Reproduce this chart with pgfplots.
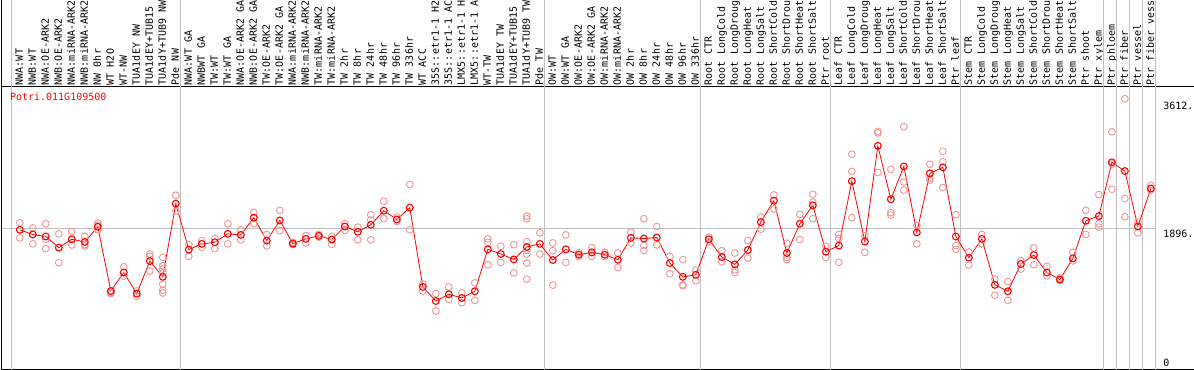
\documentclass[border=0pt]{standalone}
\usepackage{fontspec}
\setmonofont{DejaVu Sans Mono}
\usepackage{pgfplots}
\usepackage{pgfplotstable}
\pgfplotsset{compat=1.18}
\newcommand\labfont{\ttfamily\fontsize{10bp}{12bp}\selectfont}
\definecolor{sepgray}{RGB}{192,192,192}
\definecolor{reppink}{RGB}{236,150,150}
\definecolor{meanred}{RGB}{255,0,0}

\pgfplotstableread{
x y
1 1878
2 1815
3 1788
4 1639
5 1751
6 1715
7 1919
8 1056
9 1304
10 1020
11 1458
12 1246
13 2230
14 1612
15 1689
16 1711
17 1824
18 1810
19 2041
20 1733
21 2004
22 1693
23 1756
24 1797
25 1747
26 1923
27 1851
28 1946
29 2135
30 2018
31 2176
32 1110
33 921
34 1011
35 962
36 1052
37 1616
38 1553
39 1480
40 1648
41 1689
42 1472
43 1616
44 1544
45 1575
46 1544
47 1476
48 1770
49 1761
50 1774
51 1431
52 1246
53 1273
54 1751
55 1512
56 1413
57 1607
58 1982
59 2271
60 1566
61 1960
62 2208
63 1584
64 1666
65 2533
66 1720
67 3007
68 2289
69 2731
70 1842
71 2637
72 2718
73 1788
74 1503
75 1756
76 1138
77 1052
78 1418
79 1539
80 1304
81 1210
82 1494
83 2000
84 2063
85 2786
86 2668
87 1923
88 2433
}\means

\pgfplotstableread{
x y
1 1973
1 1770
2 1905
2 1689
3 1960
3 1751
3 1625
4 1824
4 1436
5 1855
5 1675
6 1788
6 1679
6 1660
7 1968
7 1940
7 1880
8 1040
8 1030
8 1020
9 1381
9 1255
10 1056
10 985
11 1553
11 1521
11 1323
12 1507
12 1395
12 1350
12 1300
12 1147
12 1066
12 1029
13 2343
13 2130
14 1679
14 1521
15 1733
15 1643
16 1760
16 1625
17 1960
17 1689
18 1878
18 1743
19 2113
19 1960
20 1815
20 1662
21 2140
21 1869
22 1710
22 1680
23 1800
23 1700
24 1815
24 1780
25 1790
25 1684
26 1960
26 1870
27 1914
27 1743
28 2081
28 2010
28 1743
29 2262
29 2027
30 2050
30 1990
31 2488
31 1878
32 1150
32 1056
33 1020
33 786
34 1110
34 944
35 1030
35 898
36 1165
36 930
37 1756
37 1710
37 1408
38 1657
38 1440
39 1679
39 1300
40 2063
40 2027
40 1720
40 1600
40 1553
40 1431
40 1215
41 1838
41 1553
42 1702
42 1598
42 1134
43 1810
43 1440
44 1570
44 1520
45 1640
45 1520
46 1575
46 1520
47 1566
47 1372
48 1846
48 1702
49 2027
49 1666
49 1598
50 1923
50 1675
51 1521
51 1287
52 1476
52 1138
52 1125
53 1337
53 1192
54 1780
54 1720
55 1598
55 1449
56 1566
56 1341
56 1304
57 1733
57 1499
58 2049
58 1887
59 2347
59 2158
60 1697
60 1507
60 1476
61 2086
61 1747
62 2356
62 2250
62 2027
63 1657
63 1507
64 1815
64 1760
64 1440
65 2894
65 2664
65 2041
66 1797
66 1575
67 3200
67 3180
67 2650
68 2691
68 2109
68 2077
69 3264
69 2519
69 2411
70 1937
70 1689
71 2759
71 2569
71 2545
72 2935
72 2794
72 2447
73 2081
73 1666
73 1616
74 1580
74 1404
75 1815
75 1689
76 1215
76 998
77 1182
77 930
78 1463
78 1350
79 1634
79 1408
80 1386
80 1260
81 1230
81 1195
82 1575
82 1460
83 2140
83 1815
84 2352
84 1960
84 1914
85 3196
85 2763
85 2424
86 3640
86 2298
86 2054
87 1838
87 1980
88 2478
88 2410
}\reps

\begin{document}
\begin{tikzpicture}
\begin{axis}[
  at={(1.5bp,0.5bp)}, anchor=south west,
  scale only axis, width=1192.5bp, height=283bp,
  xmin=-0.4077, xmax=91.323,
  ymin=0, ymax=3805,
  clip=false,
  axis line style={draw=none},
  major tick length=0pt,
  tick style={draw=none},
  /pgf/number format/assume math mode=true,
  xtick={1,...,88},
  xticklabel pos=upper,
  xticklabels={NWA:WT,NWB:WT,NWA:OE-ARK2,NWB:OE-ARK2,NWA:miRNA-ARK2,NWB:miRNA-ARK2,NW 0hr,WT H2O,WT-NW,TUA1dEY NW,TUA1dEY+TUB15,TUA1dY+TUB9 NW,Pde NW,
    NWA:WT GA,NWBWT GA,TW:WT,TW:WT GA,NWA:OE-ARK2 GA,NWB:OE-ARK2 GA,TW:OE-ARK2,TW:OE-ARK2 GA,NWA:miRNA-ARK2,NWB:miRNA-ARK2,TW:miRNA-ARK2,TW:miRNA-ARK2,TW 2hr,TW 8hr,TW 24hr,TW 48hr,TW 96hr,TW 336hr,WT ACC,35S::etr1-1 H2,35S::etr1-1 AC,LMX5::etr1-1 H,LMX5::etr1-1 A,WT-TW,TUA1dEY TW,TUA1dEY+TUB15,TUA1dY+TUB9 TW,Pde TW,
    OW:WT,OW:WT GA,OW:OE-ARK2,OW:OE-ARK2 GA,OW:miRNA-ARK2,OW:miRNA-ARK2,OW 2hr,OW 8hr,OW 24hr,OW 48hr,OW 96hr,OW 336hr,
    Root CTR,Root LongCold,Root LongDroug,Root LongHeat,Root LongSalt,Root ShortCold,Root ShortDrou,Root ShortHeat,Root ShortSalt,Ptr root,
    Leaf CTR,Leaf LongCold,Leaf LongDroug,Leaf LongHeat,Leaf LongSalt,Leaf ShortCold,Leaf ShortDrou,Leaf ShortHeat,Leaf ShortSalt,Ptr leaf,
    Stem CTR,Stem LongCold,Stem LongDroug,Stem LongHeat,Stem LongSalt,Stem ShortCold,Stem ShortDrou,Stem ShortHeat,Stem ShortSalt,Ptr shoot,Ptr xylem,
    Ptr phloem,Ptr fiber,Ptr vessel,Ptr fiber vess},
  xticklabel style={font=\labfont, rotate=90, anchor=west, inner xsep=1.2bp, inner ysep=0pt, text height=7bp, text depth=1bp},
  ytick={1896,3612},
  yticklabels={1896.,3612.},
  yticklabel pos=right,
  yticklabel style={font=\labfont, anchor=west, inner sep=0pt, xshift=-31bp, yshift=-5.5bp},
  extra y ticks={0},
  extra y tick labels={0},
  extra y tick style={yticklabel style={yshift=12.5bp}},
]
% frame lines
\draw[black, line width=1bp] (rel axis cs:0,0) -- (rel axis cs:1,0);
\draw[black, line width=1bp] (rel axis cs:0,1) -- (rel axis cs:1,1);
\draw[black, line width=1bp] (rel axis cs:0,0) -- (rel axis cs:0,1.31);
% separators
\pgfplotsinvokeforeach{0.36,13.36,41.36,53.36,63.36,73.36,84.36,85.36,86.36,87.36,88.36}{
  \draw[sepgray, line width=1bp] (axis cs:#1,0) -- ({axis cs:#1,0} |- {rel axis cs:0,1.31});
}
\draw[sepgray, line width=1bp] (axis cs:-0.4077,1896) -- (axis cs:88.36,1896);
\node[anchor=north west, inner sep=0pt, text=red, font=\labfont] at (rel axis cs:0.007,0.979) {Potri.011G109500};
% replicates
\addplot[only marks, mark=o, mark size=3.4bp, color=reppink, mark options={line width=0.9bp}] table[x=x,y=y] {\reps};
% means
\addplot[meanred, line width=0.8bp, mark=o, mark size=3.4bp, mark options={line width=1.1bp}] table[x=x,y=y] {\means};
\end{axis}
\pgfresetboundingbox
\useasboundingbox (0,0) rectangle (1194bp,370bp);
\end{tikzpicture}
\end{document}
